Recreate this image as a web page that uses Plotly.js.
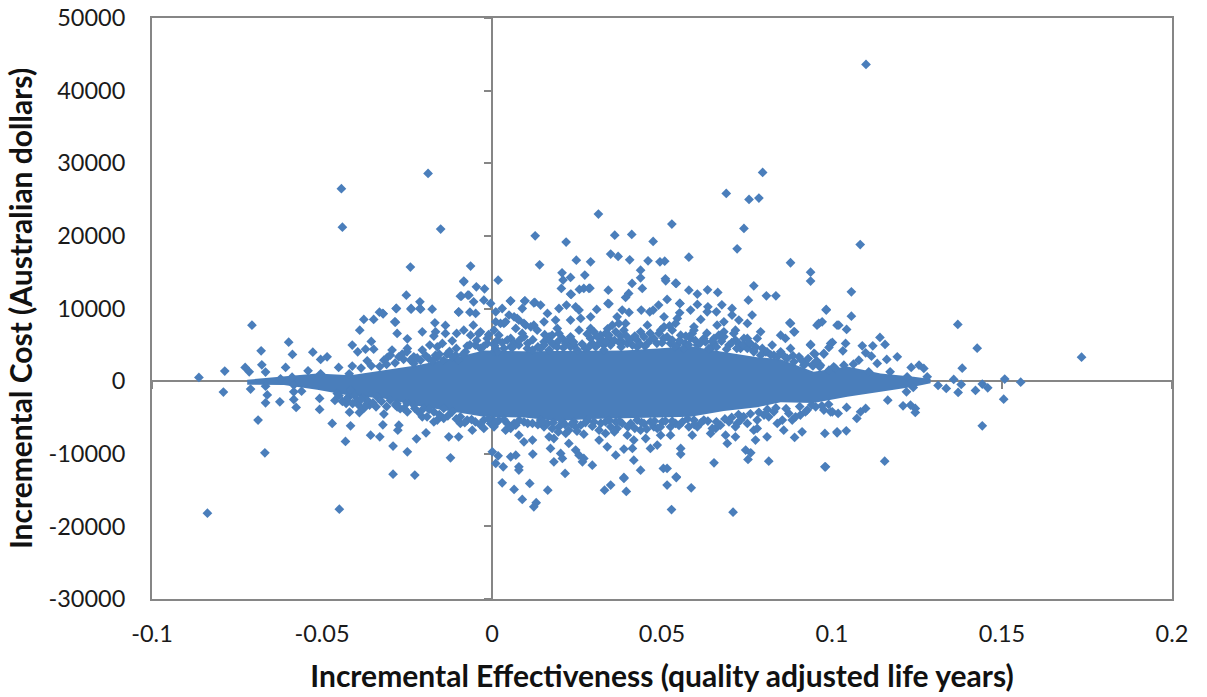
<!DOCTYPE html>
<html><head><meta charset="utf-8">
<script src="https://cdn.plot.ly/plotly-3.0.1.min.js"></script>
<style>html,body{margin:0;padding:0;background:#fff}</style></head>
<body><div id="chart" style="width:1207px;height:697px"></div>
<script>
const xTicks=[-0.1,-0.05,0,0.05,0.1,0.15,0.2];
const yTicks=[-30000,-20000,-10000,0,10000,20000,30000,40000,50000];
const xTitle="Incremental Effectiveness (quality adjusted life years)";
const yTitle="Incremental Cost (Australian dollars)";
// Outline of the solid central mass, where single points cannot be told apart
const coreX=[-0.072,-0.0612,-0.0514,-0.0416,-0.0318,-0.022,-0.0122,-0.0024,0.0094,0.0192,0.029,0.0388,0.0486,0.0584,0.0682,0.078,0.0849,0.0946,0.1045,0.1143,0.124,0.129,0.129,0.124,0.1143,0.1045,0.0946,0.0849,0.078,0.0682,0.0584,0.0486,0.0388,0.029,0.0192,0.0094,-0.0024,-0.0122,-0.022,-0.0318,-0.0416,-0.0514,-0.0612,-0.072];
const coreY=[200,600,1050,800,1500,2200,3100,4200,4100,4100,4100,4200,4500,4800,4000,3300,3000,1300,2000,1050,600,300,-300,-780,-1470,-2150,-3000,-2900,-3600,-4100,-4900,-5000,-5000,-5200,-5500,-5000,-4900,-4100,-3400,-2400,-2000,-1200,-550,-500];
const leftPoints=[[-0.0862,500],[-0.0786,1380],[-0.079,-1510],[-0.0706,7710],[-0.0726,1880],[-0.0714,1290],[-0.0679,4180],[-0.0677,2250],[-0.0666,1240],[-0.0598,5370],[-0.0587,3670],[-0.0607,1880],[-0.0527,3990],[-0.0541,1420],[-0.0504,2990],[-0.0485,3350],[-0.0451,1880],[-0.0411,4960],[-0.0411,2070],[-0.0395,4040],[-0.0372,4400],[-0.0348,4400],[-0.0355,5460],[-0.0367,2800],[-0.0389,7020],[-0.0377,8490],[-0.0348,8490],[-0.0331,9500],[-0.032,9270],[-0.0281,10010],[-0.0284,8120],[-0.0279,6560],[-0.0252,11840],[-0.0238,9910],[-0.0212,10920],[-0.021,9910],[-0.0176,9910],[-0.0205,6790],[-0.0249,5820],[-0.0168,8030],[-0.0137,7670],[-0.0098,9500],[-0.009,11700],[-0.0071,11840],[-0.0054,10920],[-0.0065,9500],[-0.0048,9320],[-0.0083,13680],[-0.0046,12990],[-0.0022,12710],[-0.0024,11150],[-0.0004,10700],[-0.0166,6790],[-0.0137,6560],[-0.0171,6200],[-0.0104,6560],[-0.0083,7020],[-0.0055,7710],[-0.0034,6790],[-0.0063,6330],[-0.0117,5550],[-0.0146,5190],[-0.0183,4960],[-0.0161,4720],[-0.0073,4820],[-0.0107,3580],[-0.0132,3720],[-0.0205,4270],[-0.023,3350],[-0.0249,4500],[-0.0294,4270],[-0.0264,3720],[-0.0308,3260],[-0.0161,3260],[-0.0666,-2990],[-0.0624,-2850],[-0.0576,-3630],[-0.0583,-2530],[-0.056,-1380],[-0.0507,-3900],[-0.0507,-2390],[-0.0462,-2660],[-0.0688,-5370],[-0.0668,-9870],[-0.047,-5830],[-0.0431,-8310],[-0.0416,-6150],[-0.0419,-4270],[-0.039,-4320],[-0.0429,-3070],[-0.0357,-7440],[-0.033,-7670],[-0.0321,-6010],[-0.0318,-4540],[-0.0277,-6750],[-0.0274,-6060],[-0.0291,-8950],[-0.0249,-9730],[-0.0222,-7950],[-0.0194,-7120],[-0.0127,-7670],[-0.0098,-7670],[-0.0122,-10560],[-0.0291,-12810],[-0.0227,-12940],[-0.0205,-4920],[-0.0171,-5600],[-0.0142,-5140],[-0.0093,-5830],[-0.0058,-6750],[-0.0024,-6520],[-0.0249,-4230],[-0.0227,-3760],[-0.0279,-3540],[-0.0341,-3540],[-0.036,-3300],[-0.0421,-2160],[-0.0381,-2300],[-0.071,-1100],[-0.0666,-700],[-0.0661,-1900],[-0.0583,-1480],[-0.0583,-550],[-0.0622,320],[-0.0588,550],[-0.0504,1010],[-0.042,1000],[-0.0426,-2390],[-0.0395,-2620],[-0.0367,-3070],[-0.028,-3070],[-0.0449,-17630],[-0.0837,-18180],[-0.0443,26500],[-0.044,21200],[-0.0188,28600],[-0.0151,20930],[-0.024,15700],[-0.0063,15840],[-0.0083,13770],[-0.0093,11700],[-0.0068,11840],[-0.0212,10000],[-0.0238,10000],[-0.0282,10000],[-0.0098,9540],[-0.0321,9320],[-0.0286,8170],[-0.0318,2890],[-0.0299,3580],[-0.0274,3350],[-0.025,4040],[-0.023,2430],[-0.021,2890],[-0.0186,3120],[-0.0166,3580],[-0.0142,2890],[-0.0117,3350],[-0.0098,2890],[-0.0078,4040],[-0.0049,4960],[-0.0034,4500],[-0.0014,5190],[0.0006,4040],[-0.0039,6560],[-0.0014,5880],[0.0006,7020],[-0.0426,-2620],[-0.0406,-1930],[-0.0392,-3300],[-0.0367,-2620],[-0.0338,-2160],[-0.0299,-2620],[-0.0284,-3300],[-0.0259,-3760],[-0.023,-3300],[-0.0201,-3760],[-0.0171,-4220],[-0.0142,-3760],[-0.0117,-4220],[-0.0093,-4910],[-0.0073,-5370],[-0.0049,-5600],[-0.0024,-5370],[-0.0004,-5830],[-0.0191,-4910],[-0.0161,-5370],[-0.0377,-3760],[-0.0416,-1240],[-0.0455,-1700]];
const upperPoints=[[0.0018,13900],[0.0127,20010],[0.014,16020],[0.0218,19140],[0.0248,16660],[0.029,16430],[0.0313,23000],[0.0361,20100],[0.0411,20200],[0.0474,19240],[0.0529,21620],[0.0689,25850],[0.0756,25020],[0.0785,25200],[0.0796,28740],[0.0741,21030],[0.0721,18220],[0.0579,17070],[0.0349,17490],[0.0371,17170],[0.0405,16700],[0.0459,16560],[0.0494,16430],[0.0508,16520],[0.0437,15280],[0.0437,14220],[0.051,14090],[0.054,13490],[0.0206,14910],[0.0231,14280],[0.0273,14600],[0.0209,13910],[0.0204,12760],[0.0233,11930],[0.0257,12620],[0.0288,12800],[0.027,12760],[0.0342,12530],[0.0412,13450],[0.0442,12760],[0.0402,12070],[0.0393,11520],[0.0515,11250],[0.0579,12530],[0.0604,11980],[0.0634,12570],[0.0664,12210],[0.077,13120],[0.0807,11750],[0.0835,11750],[0.0754,11150],[0.0676,10510],[0.0604,10560],[0.0552,10700],[0.0344,10640],[0.0126,10840],[0.0096,11020],[0.0054,11020],[0.0231,11980],[0.0285,12760],[0.0511,13820],[0.0542,13450],[0.0553,10700],[0.0635,10240],[0.0706,10000],[0.0055,11060],[0.003,10000],[0.0097,11060],[0.0123,10790],[0.0143,10470],[0.0089,10000],[0.0197,10000],[0.0219,10470],[0.0246,10240],[0.0256,9780],[0.0163,9320],[0.0308,9870],[0.0341,10700],[0.0383,9780],[0.0403,9460],[0.0439,9780],[0.0464,9550],[0.049,10470],[0.0474,9780],[0.0552,9410],[0.0584,9780],[0.0633,9550],[0.066,9550],[0.0706,9090],[0.0726,8400],[0.0765,9090],[0.005,9090],[0.0011,9550],[0.0074,8630],[0.0094,7940],[0.0035,7940],[0.0011,8170],[0.0123,7710],[0.0153,8170],[0.0187,8400],[0.0231,8400],[0.0261,8630],[0.029,8860],[0.0368,8860],[0.0393,7940],[0.0354,7710],[0.0457,7710],[0.0506,8860],[0.0545,8630],[0.0614,8490],[0.0594,7480],[0.0662,7710],[0.0682,8170],[0.0716,7020],[0.0751,7940],[0.0878,7940],[0.0961,7940],[0.0983,9870],[0.1015,7710],[0.079,6790],[0.0863,5870],[0.0888,6790],[0.0824,4960],[0.0937,4960],[0.0996,5190],[0.0976,3810],[0.0947,3810],[0.0849,6330],[0.078,5870],[0.0878,4500],[0.0805,4040],[0.0016,5650],[0.0055,5870],[0.0094,6100],[0.0168,6100],[0.0197,6560],[0.0231,6100],[0.0256,7020],[0.029,7250],[0.0319,6330],[0.0344,5870],[0.0373,7940],[0.0437,6790],[0.0496,7020],[0.053,7020],[0.0589,6560],[0.0623,5870],[0.0653,5870],[0.0682,6790],[0.0716,5650],[0.0751,5870],[0.0466,5650],[0.0383,5420],[0.0295,5190],[0.0153,5420],[0.0104,4500],[0.0055,4730],[0.0016,4040],[0.0192,4730],[0.0241,4960],[0.0329,4960],[0.0427,4730],[0.0525,5190],[0.0569,5190],[0.0643,4500],[0.0731,4500],[0.077,4270],[0.0006,5190],[0.0025,7940],[0.004,8170],[0.002,6330],[0.0045,5650],[0.0065,5190],[0.0011,4500],[0.0035,4500],[0.0079,4960],[0.0065,8860],[0.0079,8400],[0.0099,7710],[0.0114,7480],[0.007,7250],[0.0089,6560],[0.0133,7020],[0.0163,5870],[0.0177,6330],[0.0192,7250],[0.0207,5870],[0.0153,4960],[0.0182,4960],[0.0119,4270],[0.0143,4500],[0.0168,4270],[0.0217,5190],[0.0231,4730],[0.0251,4270],[0.0275,4500],[0.03,6790],[0.031,6100],[0.0324,5650],[0.0334,6560],[0.0344,6330],[0.029,5870],[0.0305,4730],[0.0329,4270],[0.0349,4960],[0.0364,6790],[0.0373,5420],[0.0388,7020],[0.0393,6330],[0.0398,5190],[0.0413,4960],[0.0427,5650],[0.0447,6100],[0.0457,5190],[0.0476,5870],[0.0491,6560],[0.0506,7480],[0.0515,6100],[0.053,5650],[0.054,7940],[0.0555,6330],[0.0545,4960],[0.0564,4500],[0.0584,5870],[0.0594,7020],[0.0604,4960],[0.0628,5420],[0.0638,4500],[0.0653,5190],[0.0667,6330],[0.0682,6100],[0.0697,4960],[0.0711,6560],[0.0726,5190],[0.0741,5870],[0.0751,4500],[0.076,5190],[0.077,4040],[0.079,3580],[0.0809,4040],[0.0829,3580],[0.0849,4040],[0.0868,3120],[0.0888,2660],[0.0903,3350],[0.0922,2430],[0.0942,2200],[0.0966,2200],[0.0991,1510],[0.1005,1970]];
const lowerPoints=[[0.0016,-5600],[0.004,-6750],[0.0065,-5830],[0.0079,-7440],[0.0094,-8350],[0.0119,-8120],[0.0001,-9730],[0.0018,-10280],[0.0055,-10420],[0.007,-10190],[0.012,-10050],[0.0011,-11340],[0.0033,-11800],[0.0079,-11800],[0.0079,-12250],[0.0215,-12710],[0.0168,-7670],[0.0153,-6290],[0.0182,-7900],[0.0217,-7210],[0.0246,-6290],[0.027,-7300],[0.0226,-8580],[0.0172,-9270],[0.0202,-9960],[0.0182,-11110],[0.0207,-10650],[0.0246,-9500],[0.0256,-10190],[0.027,-10650],[0.0266,-11110],[0.0295,-11570],[0.0315,-6750],[0.0315,-8120],[0.0339,-9040],[0.0334,-7210],[0.0364,-10190],[0.0388,-9360],[0.0413,-9270],[0.0417,-10880],[0.0437,-12260],[0.0388,-13270],[0.0368,-6520],[0.0398,-7440],[0.0417,-8120],[0.0437,-6750],[0.0452,-7900],[0.0466,-9270],[0.0486,-8810],[0.0476,-6290],[0.0496,-7440],[0.0525,-7440],[0.0555,-9270],[0.0555,-10050],[0.0504,-12030],[0.0515,-12030],[0.0542,-13170],[0.0589,-7440],[0.0604,-6290],[0.0643,-7210],[0.0658,-6520],[0.0653,-11250],[0.0687,-7440],[0.0692,-8580],[0.0716,-7670],[0.0721,-5830],[0.0746,-9500],[0.0761,-9870],[0.0753,-10790],[0.0775,-8120],[0.0809,-7670],[0.077,-6750],[0.078,-5370],[0.0814,-4910],[0.0839,-5830],[0.0858,-6750],[0.089,-7760],[0.0912,-6980],[0.0883,-5370],[0.0907,-4680],[0.0814,-11020],[0.0979,-7210],[0.1015,-7110],[0.0981,-11800],[0.0927,-3990],[0.003,-14000],[0.0111,-14090],[0.0065,-14920],[0.0089,-16290],[0.0123,-17300],[0.013,-16740],[0.0164,-15010],[0.0331,-15010],[0.0349,-14320],[0.0388,-13400],[0.0395,-15190],[0.0515,-14320],[0.0542,-13270],[0.0586,-14690],[0.0528,-17690],[0.0709,-18040],[0.002,-5370],[0.0045,-5830],[0.007,-6060],[0.0006,-6290],[0.0094,-5600],[0.0119,-5830],[0.0143,-5370],[0.0163,-5830],[0.0177,-6520],[0.0197,-6290],[0.0207,-5600],[0.0226,-6750],[0.0241,-5600],[0.0261,-6060],[0.028,-5370],[0.03,-5600],[0.0334,-5600],[0.0349,-6290],[0.0364,-5600],[0.0383,-5830],[0.0408,-5830],[0.0427,-5370],[0.0447,-5830],[0.0466,-5600],[0.0486,-6520],[0.0501,-5600],[0.0525,-6290],[0.054,-5830],[0.056,-5600],[0.0579,-6290],[0.0594,-5370],[0.0623,-5370],[0.0648,-6520],[0.0672,-6060],[0.0697,-5600],[0.0716,-6290],[0.0731,-5370],[0.0751,-5830],[0.078,-6520],[0.08,-4680],[0.0829,-4220],[0.0854,-5370],[0.0873,-4450],[0.0893,-4910],[0.0922,-4220],[0.0952,-3530],[0.0976,-3990],[0.1001,-4220]];
const rightPoints=[[0.11,43600],[0.1057,12300],[0.1083,18800],[0.0983,9780],[0.1057,8950],[0.0876,8030],[0.0956,7710],[0.0971,8170],[0.0937,13770],[0.0878,16300],[0.0937,15000],[0.102,7710],[0.1043,7110],[0.089,6790],[0.1141,6010],[0.137,7800],[0.1427,4540],[0.1734,3300],[0.0937,5050],[0.095,3720],[0.0976,3720],[0.1001,5320],[0.0991,4640],[0.1032,4180],[0.104,5190],[0.1089,4870],[0.112,4870],[0.1156,5050],[0.1099,3900],[0.1116,3440],[0.1079,2890],[0.1161,2980],[0.1192,3350],[0.1133,2430],[0.1233,1880],[0.1256,2200],[0.127,1740],[0.1383,1790],[0.128,600],[0.1312,-600],[0.1336,-1010],[0.1358,230],[0.1371,-1560],[0.138,-460],[0.1422,-1290],[0.1442,-410],[0.1458,-920],[0.1508,280],[0.1505,-2480],[0.1555,-140],[0.1442,-6150],[0.0979,-11800],[0.1155,-11020],[0.1015,-6980],[0.1042,-6840],[0.1073,-5140],[0.1043,-3630],[0.1084,-4220],[0.1099,-3760],[0.1018,-4450],[0.0996,-4220],[0.1164,-2620],[0.1209,-3400],[0.1231,-3300],[0.1245,-3760],[0.1245,-4310],[0.1239,-870],[0.1219,-1470],[0.0917,2200],[0.0944,2110],[0.0964,1970],[0.101,1740],[0.1035,2200],[0.1063,2340],[0.1108,1290],[0.1171,1290],[0.1221,600]];
const edgePoints=[[0.0008,4900],[0.003,5300],[0.006,4600],[0.008,5600],[0.0105,5200],[0.012,5700],[0.0135,4700],[0.0155,6400],[0.0175,5300],[0.0195,5500],[0.021,4600],[0.0225,5600],[0.024,5400],[0.0265,5100],[0.028,6500],[0.0285,4700],[0.0315,5200],[0.0335,5400],[0.034,7200],[0.036,5600],[0.0378,6200],[0.038,4700],[0.0405,5700],[0.042,6200],[0.0435,5100],[0.045,4800],[0.0465,6600],[0.0485,5200],[0.05,5300],[0.0505,5900],[0.0522,7600],[0.0538,4800],[0.0552,5600],[0.057,6200],[0.0578,5000],[0.0598,5600],[0.0612,5200],[0.0632,6600],[0.0648,5500],[0.066,4700],[0.0675,5500],[0.069,4400],[0.0705,5300],[0.072,4500],[0.0738,5000],[0.0755,5300],[0.0775,4700],[0.0795,4500],[0.082,3600],[0.084,3400],[0.086,3400],[0.0885,3500],[0.091,2900],[0.093,3100],[0.0955,2800],[0.0005,-5400],[0.0035,-5300],[0.0055,-6500],[0.008,-5400],[0.0105,-5800],[0.0135,-6000],[0.015,-5600],[0.018,-5700],[0.0195,-7000],[0.0215,-6000],[0.0235,-5900],[0.025,-6900],[0.0275,-5700],[0.0295,-6200],[0.032,-5800],[0.0345,-5400],[0.036,-7000],[0.0375,-5500],[0.04,-6300],[0.042,-6500],[0.044,-5700],[0.0455,-6600],[0.0478,-5500],[0.0495,-6300],[0.051,-5500],[0.053,-5500],[0.055,-6100],[0.0575,-5200],[0.0595,-6000],[0.0615,-5700],[0.0635,-5500],[0.066,-5600],[0.0685,-5200],[0.0705,-5000],[0.0725,-4600],[0.074,-4900],[0.076,-4500],[0.0785,-4300],[0.081,-3900],[0.0835,-3700],[0.0865,-3800],[0.0905,-3500],[0.094,-3300],[0.097,-3400],[0.099,-3200],[-0.0385,1800],[-0.0355,2100],[-0.033,2000],[-0.031,2300],[-0.0285,2500],[-0.026,3000],[-0.024,2900],[-0.022,3200],[-0.0195,3500],[-0.0175,2800],[-0.0155,3700],[-0.0125,4100],[-0.0105,4500],[-0.0085,3700],[-0.0065,5000],[-0.0045,5600],[-0.0025,4800],[-0.001,6400],[-0.045,-2000],[-0.044,-2800],[-0.041,-3100],[-0.0385,-2500],[-0.035,-3000],[-0.0325,-2800],[-0.031,-3500],[-0.027,-3800],[-0.025,-3000],[-0.0215,-4300],[-0.0185,-3900],[-0.0155,-4600],[-0.013,-4800],[-0.0105,-5200],[-0.008,-5700],[-0.006,-5300],[-0.0035,-6000],[-0.001,-5200]];
const pointColor="#4a7ebb", axisColor="#868686";
const allPoints=[...leftPoints,...upperPoints,...lowerPoints,...rightPoints,...edgePoints];
const data=[
 {type:"scatter",mode:"lines",x:coreX,y:coreY,line:{width:0},opacity:0,hoverinfo:"skip"},
 {type:"scatter",mode:"lines",x:coreX,y:coreY,fill:"toself",fillcolor:pointColor,line:{width:0,color:pointColor},hoverinfo:"skip",xaxis:"x2",yaxis:"y2"},
 {type:"scatter",mode:"markers",x:allPoints.map(p=>p[0]),y:allPoints.map(p=>p[1]),marker:{symbol:"diamond",size:7.5,color:pointColor,line:{width:0}},xaxis:"x2",yaxis:"y2"}
];
const font={family:"Lato, 'Open Sans', sans-serif",color:"#1a1a1a"};
const layout={
 width:1207,height:697,showlegend:false,paper_bgcolor:"#fff",plot_bgcolor:"#fff",
 margin:{l:152,r:35,t:18,b:98},
 xaxis:{range:[-0.1,0.2],tickvals:xTicks,ticktext:xTicks.map(String),showgrid:false,zeroline:false,showline:true,mirror:true,linecolor:axisColor,linewidth:2,ticks:"",ticklabelstandoff:13,tickfont:{...font,size:23.5},title:{text:xTitle,standoff:20,font:{...font,size:30,weight:700,color:"#111"}}},
 yaxis:{range:[-30000,50000],tickvals:yTicks,ticktext:yTicks.map(String),showgrid:false,zeroline:false,showline:true,mirror:true,linecolor:axisColor,linewidth:2,ticks:"",ticklabelstandoff:20,tickfont:{...font,size:23.5},title:{text:yTitle,standoff:7,font:{...font,size:30,weight:700,color:"#111"}}},
 xaxis2:{overlaying:"x",anchor:"free",position:0.375,range:[-0.1,0.2],tickvals:xTicks,showticklabels:false,showgrid:false,zeroline:false,showline:true,linecolor:axisColor,linewidth:2,ticks:"outside",ticklen:7,tickwidth:1.5,tickcolor:axisColor,layer:"below traces"},
 yaxis2:{overlaying:"y",anchor:"free",position:1/3,range:[-30000,50000],tickvals:yTicks,showticklabels:false,showgrid:false,zeroline:false,showline:true,linecolor:axisColor,linewidth:2,ticks:"outside",ticklen:7,tickwidth:1.5,tickcolor:axisColor,layer:"below traces"}
};
Plotly.newPlot("chart",data,layout,{displayModeBar:false,responsive:false});
</script></body></html>
